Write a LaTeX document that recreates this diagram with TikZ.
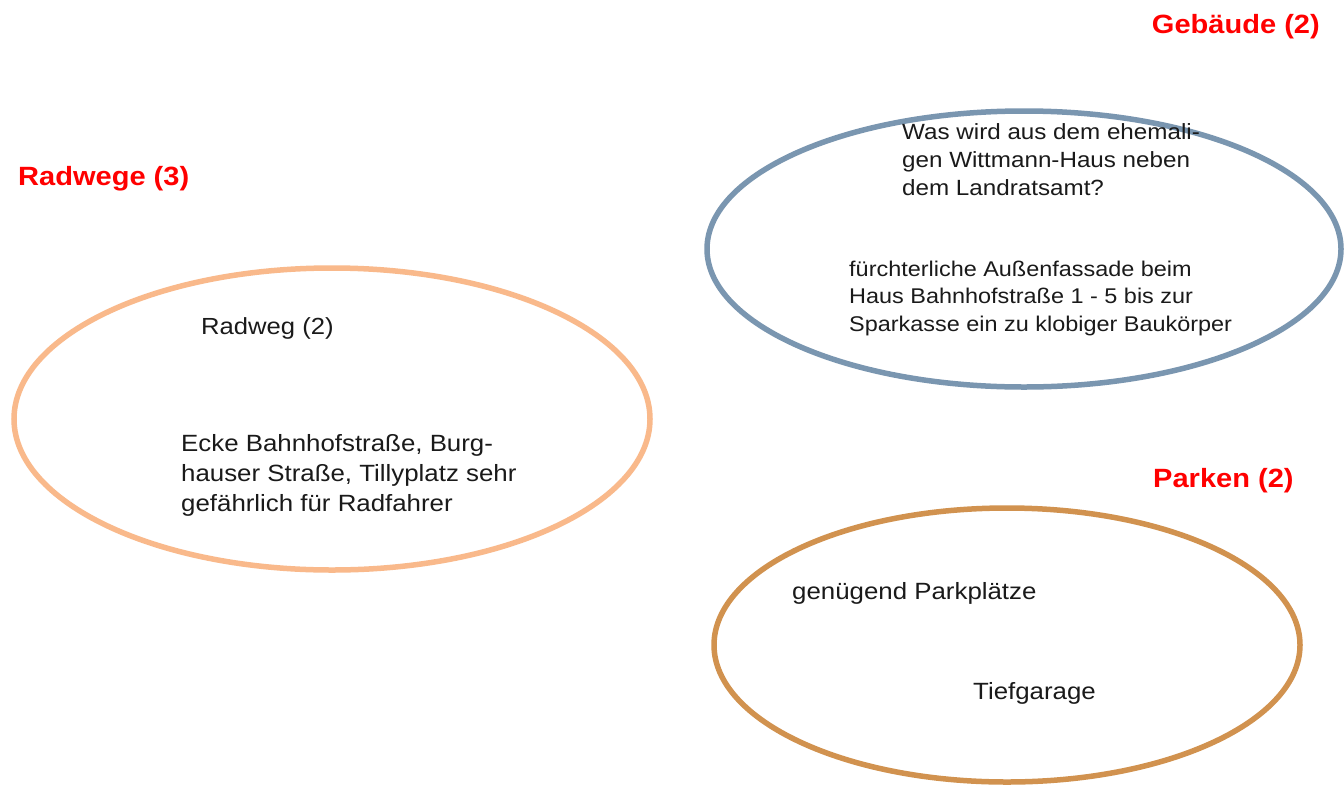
\documentclass[tikz,border=0pt]{standalone}
\usepackage{fontspec}
\setmainfont{Liberation Sans}[FakeStretch=1.1]
\definecolor{ringA}{HTML}{F9B98B}
\definecolor{ringB}{HTML}{7A96B0}
\definecolor{ringC}{HTML}{D1924F}
\definecolor{txt}{HTML}{1A1A1A}
\definecolor{ttl}{HTML}{FF0000}
\newcommand{\fs}[2]{\fontsize{#1}{#2}\selectfont}
\begin{document}
\begin{tikzpicture}[x=1pt,y=-1pt,
  ring/.style={line width=5.5pt},
  body/.style={inner sep=0pt, text=txt, align=left, anchor=west},
  title/.style={inner sep=0pt, text=ttl, font=\fs{26.4}{30}\bfseries}]
\useasboundingbox (0,0) rectangle (1344,785);
\fill[white] (0,0) rectangle (1344,785);
\draw[ring, ringA] (332,419) ellipse [x radius=318, y radius=151];
\draw[ring, ringB] (1024,249) ellipse [x radius=317, y radius=138];
\draw[ring, ringC] (1007,645) ellipse [x radius=293, y radius=137];
\node[title, anchor=east] (tg) at (1320,27) {Gebäude (2)};
\node[title, anchor=west] (tr) at (18,179) {Radwege (3)};
\node[title, anchor=west] (tp) at (1153,481) {Parken (2)};
\node[body, font=\fs{23.3}{28}] (r1) at (201,328) {Radweg (2)};
\node[body, font=\fs{23.5}{30}] (r2) at (181,475) {Ecke Bahnhofstraße, Burg-\\hauser Straße, Tillyplatz sehr\\gefährlich für Radfahrer};
\node[body, font=\fs{22}{28}] (g1) at (902,160) {Was wird aus dem ehemali-\\gen Wittmann-Haus neben\\dem Landratsamt?};
\node[body, font=\fs{21.3}{27.5}] (g2) at (849,298) {fürchterliche Außenfassade beim\\Haus Bahnhofstraße 1 - 5 bis zur\\Sparkasse ein zu klobiger Baukörper};
\node[body, font=\fs{23.5}{28}] (p1) at (792,593) {genügend Parkplätze};
\node[body, font=\fs{23.5}{28}] (p2) at (973,693) {Tiefgarage};
\end{tikzpicture}
\end{document}
